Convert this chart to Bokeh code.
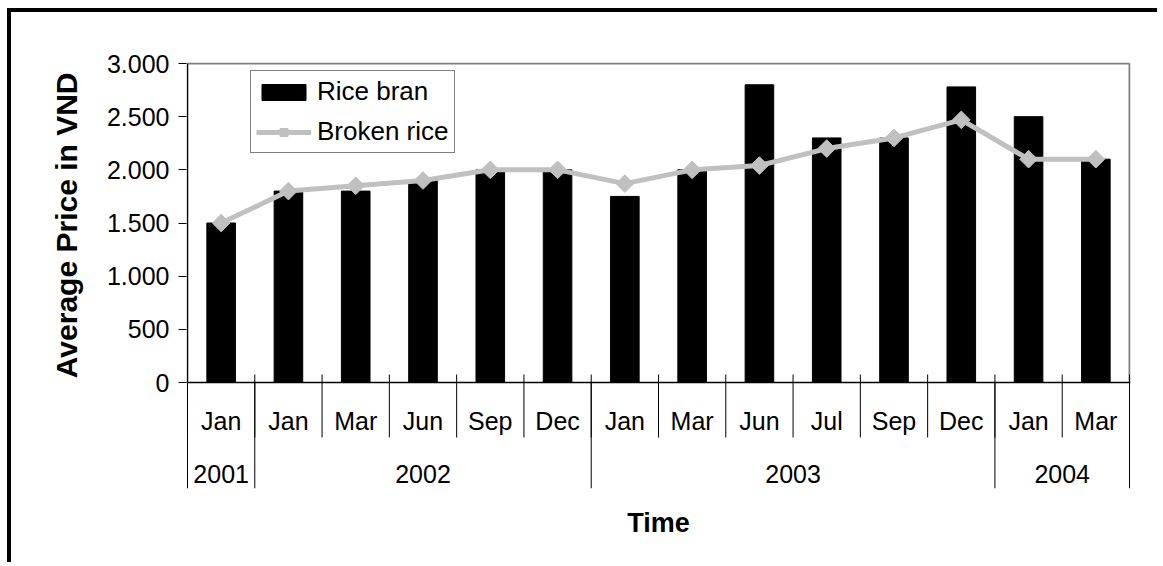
import numpy as np
from bokeh.plotting import figure
from bokeh.models import Range1d, FixedTicker, Legend, LegendItem, Span, Title
from bokeh.core.properties import value
from bokeh.embed import file_html
from bokeh.resources import INLINE

# ---------------- data ----------------
months = ["Jan", "Jan", "Mar", "Jun", "Sep", "Dec", "Jan", "Mar", "Jun", "Jul", "Sep", "Dec", "Jan", "Mar"]
years = ["2001", "2002", "2002", "2002", "2002", "2002", "2003", "2003", "2003", "2003", "2003", "2003", "2004", "2004"]
rice_bran = [1500, 1800, 1800, 1900, 2000, 2000, 1750, 2000, 2800, 2300, 2300, 2780, 2500, 2100]
broken_rice = [1500, 1800, 1850, 1900, 2000, 2000, 1870, 2000, 2040, 2200, 2300, 2470, 2100, 2100]
y_ticks = [0, 500, 1000, 1500, 2000, 2500, 3000]
y_tick_labels = ["0", "500", "1.000", "1.500", "2.000", "2.500", "3.000"]

FONT = "Liberation Sans"

# ---------------- geometry (pixels) ----------------
n = len(months)
PX_ABOVE = 319      # pixels from 0 to top value
PX_BELOW = 106      # pixels of the category label band below the axis
CAT_PX = 67.29      # pixels per category
upy = y_ticks[-1] / PX_ABOVE
upx = 1.0 / CAT_PX
top = y_ticks[-1]

xc = np.arange(n) + 0.5
bounds_all = np.arange(n + 1)
year_bounds = [0] + [i for i in range(1, n) if years[i] != years[i - 1]] + [n]
year_names = [years[b] for b in year_bounds[:-1]]
year_centers = [(a + b) / 2 for a, b in zip(year_bounds[:-1], year_bounds[1:])]

p = figure(
    width=1150, height=554,
    x_range=Range1d(-1 * upx, n + 1 * upx),
    y_range=Range1d(-PX_BELOW * upy, top + 1 * upy),
    output_backend="svg", toolbar_location=None,
    min_border_left=175, min_border_right=31, min_border_top=50, min_border_bottom=78,
)
p.styles = {"margin-top": "8px", "margin-left": "7px",
            "border-top": "4px solid black", "border-left": "4px solid black"}
p.outline_line_color = None
p.xgrid.visible = False
p.ygrid.visible = False
p.background_fill_color = "white"
p.border_fill_color = "white"

# bars and line
bars = p.vbar(x=xc, top=rice_bran, width=0.425, fill_color="black", line_color="black")
line_r = p.line(xc, broken_rice, line_color="#C0C0C0", line_width=5)
pts = p.scatter(xc, broken_rice, marker="square", angle=np.pi / 4, size=12.5,
                fill_color="#C0C0C0", line_color="#C0C0C0")

# plot-area frame: grey top and right edges, black left edge, black zero line
p.segment(x0=[0, n], y0=[top, 0], x1=[n, n], y1=[top, top], line_color="#808080", line_width=2)
p.segment(x0=[0], y0=[top], x1=[0], y1=[0], line_color="black", line_width=1.5)
p.add_layout(Span(location=0, dimension="width", line_color="black", line_width=1.5))

# category separators
p.segment(x0=bounds_all, y0=8 * upy, x1=bounds_all, y1=-55 * upy, line_color="black", line_width=1)
p.segment(x0=year_bounds, y0=0, x1=year_bounds, y1=-PX_BELOW * upy, line_color="black", line_width=1)

# category labels
p.text(x=xc, y=-38.5 * upy, text=months, text_align="center", text_baseline="middle",
       text_font=value(FONT), text_font_size=value("25px"), text_color="black")
p.text(x=year_centers, y=-91 * upy, text=year_names, text_align="center", text_baseline="middle",
       text_font=value(FONT), text_font_size=value("25px"), text_color="black")

# y axis
yax = p.yaxis[0]
yax.ticker = FixedTicker(ticks=y_ticks)
yax.major_label_overrides = dict(zip(y_ticks, y_tick_labels))
yax.bounds = (0, top)
yax.axis_line_color = None
yax.major_tick_in = 0
yax.major_tick_out = 8
yax.major_tick_line_color = "black"
yax.minor_tick_line_color = None
yax.major_label_standoff = 9
yax.major_label_text_font = FONT
yax.major_label_text_font_size = "25px"
yax.major_label_text_color = "black"

# y title, aligned with the value part of the axis
p.add_layout(Title(text="Average Price in VND", align="right", offset=10,
                   vertical_align="middle", standoff=40,
                   text_font=FONT, text_font_size="30px", text_font_style="bold",
                   text_color="black"), "left")

# x axis (title only)
xax = p.xaxis[0]
xax.ticker = FixedTicker(ticks=[])
xax.axis_line_color = None
xax.major_tick_line_color = None
xax.minor_tick_line_color = None
xax.axis_label = "Time"
xax.axis_label_text_font = FONT
xax.axis_label_text_font_size = "27px"
xax.axis_label_text_font_style = "bold"
xax.axis_label_text_color = "black"
xax.axis_label_standoff = 19

legend = Legend(
    items=[LegendItem(label="Rice bran", renderers=[bars]),
           LegendItem(label="Broken rice", renderers=[line_r, pts])],
    location=(64, 335), orientation="vertical",
    border_line_color="black", border_line_width=1,
    padding=5, spacing=9, margin=0,
    glyph_width=55, glyph_height=20, label_standoff=6,
    label_text_font=FONT, label_text_font_size="26px", label_text_color="black",
    background_fill_color="white", background_fill_alpha=1.0,
)
p.add_layout(legend)

open("out.html", "w").write(file_html(p, INLINE))
